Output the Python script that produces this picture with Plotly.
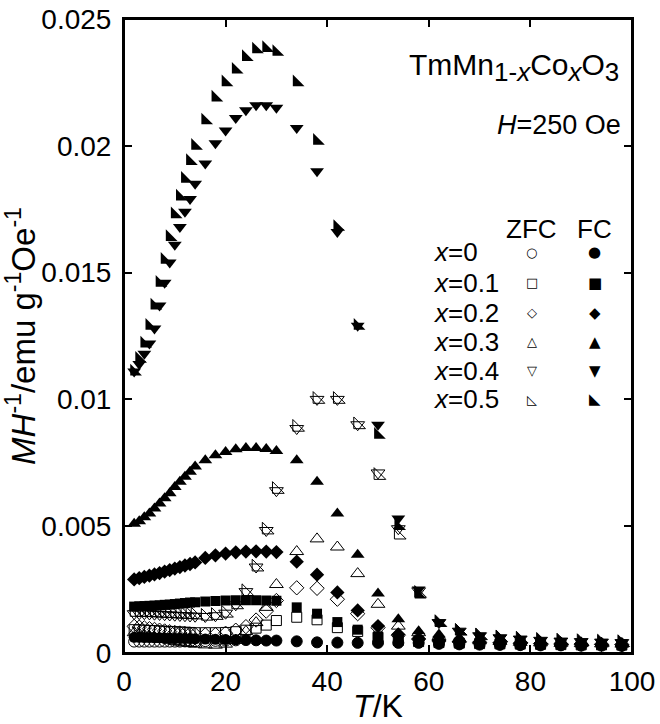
import plotly.graph_objects as go

# Temperatures (K)
T = [2, 3, 4, 5, 6, 7, 8, 9, 10, 11, 12, 13, 14, 16, 18, 20, 22, 24, 26, 28, 30,
     34, 38, 42, 46, 50, 54, 58, 62, 66, 70, 74, 78, 82, 86, 90, 94, 98]

# MH^-1 values in units of 1e-3 emu g^-1 Oe^-1
fc_00 = [0.62, 0.62, 0.61, 0.61, 0.60, 0.60, 0.59, 0.59, 0.58, 0.58, 0.57, 0.57, 0.56, 0.55, 0.54, 0.53, 0.52, 0.51, 0.50, 0.49, 0.49,
         0.46, 0.42, 0.41, 0.40, 0.40, 0.40, 0.40, 0.36, 0.34, 0.33, 0.32, 0.31, 0.30, 0.30, 0.29, 0.29, 0.28]
zfc_00 = [0.45, 0.45, 0.45, 0.45, 0.45, 0.45, 0.45, 0.45, 0.45, 0.45, 0.46, 0.46, 0.46, 0.47, 0.48, 0.49, 0.50, 0.51, 0.50, 0.49, 0.49,
          0.46, 0.42, 0.41, 0.40, 0.40, 0.40, 0.40, 0.36, 0.34, 0.33, 0.32, 0.31, 0.30, 0.30, 0.29, 0.29, 0.28]
fc_01 = [1.83, 1.84, 1.85, 1.86, 1.87, 1.88, 1.90, 1.91, 1.93, 1.95, 1.97, 1.99, 2.00, 2.03, 2.05, 2.07, 2.08, 2.08, 2.08, 2.07, 2.06,
         1.80, 1.55, 1.22, 0.92, 0.65, 0.50, 0.45, 0.42, 0.40, 0.38, 0.37, 0.36, 0.35, 0.34, 0.33, 0.33, 0.32]
zfc_01 = [0.92, 0.91, 0.90, 0.89, 0.88, 0.87, 0.86, 0.85, 0.84, 0.83, 0.82, 0.81, 0.80, 0.80, 0.80, 0.81, 0.84, 0.90, 0.98, 1.10, 1.28,
          1.41, 1.31, 1.00, 0.85, 0.62, 0.50, 0.45, 0.41, 0.39, 0.37, 0.36, 0.35, 0.34, 0.33, 0.32, 0.32, 0.31]
fc_02 = [2.90, 2.95, 3.00, 3.05, 3.10, 3.15, 3.21, 3.27, 3.33, 3.39, 3.45, 3.51, 3.57, 3.75, 3.85, 3.92, 3.97, 4.00, 4.01, 4.00, 3.98,
         3.60, 3.09, 2.39, 1.68, 1.06, 0.73, 0.55, 0.48, 0.45, 0.42, 0.40, 0.38, 0.37, 0.36, 0.35, 0.34, 0.33]
zfc_02 = [1.05, 1.02, 0.99, 0.96, 0.93, 0.90, 0.87, 0.84, 0.81, 0.79, 0.77, 0.75, 0.73, 0.72, 0.73, 0.78, 0.90, 1.04, 1.30, 1.65, 2.07,
          2.57, 2.55, 2.12, 1.55, 1.00, 0.70, 0.55, 0.47, 0.44, 0.42, 0.40, 0.38, 0.37, 0.36, 0.35, 0.34, 0.33]
fc_03 = [5.10, 5.20, 5.35, 5.50, 5.70, 5.90, 6.10, 6.30, 6.55, 6.75, 6.95, 7.15, 7.35, 7.60, 7.80, 7.93, 8.03, 8.08, 8.08, 8.04, 7.97,
         7.60, 6.75, 5.50, 3.87, 2.35, 1.33, 0.86, 0.73, 0.60, 0.52, 0.48, 0.45, 0.42, 0.40, 0.38, 0.37, 0.36]
zfc_03 = [0.80, 0.75, 0.70, 0.66, 0.62, 0.58, 0.54, 0.50, 0.46, 0.43, 0.40, 0.37, 0.35, 0.32, 0.31, 0.35, 0.50, 0.85, 1.20, 1.80, 2.70,
          4.00, 4.50, 4.18, 3.13, 1.92, 1.06, 0.80, 0.65, 0.55, 0.48, 0.45, 0.42, 0.40, 0.38, 0.37, 0.36, 0.35]
fc_04 = [11.1, 11.4, 11.8, 12.2, 12.8, 13.7, 14.6, 15.4, 16.1, 16.8, 17.4, 17.9, 18.5, 19.3, 20.1, 20.6, 21.1, 21.4, 21.6, 21.6, 21.5,
         20.7, 19.0, 16.6, 12.9, 9.0, 5.3, 2.5, 1.2, 0.86, 0.68, 0.60, 0.55, 0.50, 0.47, 0.45, 0.43, 0.41]
zfc_04 = [1.55, 1.55, 1.55, 1.54, 1.53, 1.52, 1.51, 1.50, 1.49, 1.48, 1.47, 1.46, 1.45, 1.44, 1.47, 1.57, 1.90, 2.42, 3.39, 4.83, 6.40,
          8.85, 10.0, 10.0, 9.0, 7.1, 4.9, 2.45, 1.2, 0.86, 0.68, 0.60, 0.55, 0.50, 0.47, 0.45, 0.43, 0.41]
fc_05 = [11.1, 11.6, 12.2, 12.9, 13.7, 14.6, 15.5, 16.4, 17.3, 18.0, 18.7, 19.4, 20.0, 21.0, 21.9, 22.5, 23.0, 23.5, 23.8, 23.85, 23.7,
         22.5, 20.2, 16.8, 12.9, 8.6, 5.0, 2.3, 1.2, 0.86, 0.68, 0.60, 0.55, 0.50, 0.47, 0.45, 0.43, 0.41]
zfc_05 = [1.60, 1.60, 1.60, 1.59, 1.58, 1.57, 1.56, 1.55, 1.54, 1.53, 1.52, 1.51, 1.50, 1.45, 1.48, 1.57, 1.90, 2.42, 3.39, 4.85, 6.45,
          8.90, 10.0, 10.0, 9.0, 7.0, 4.65, 2.35, 1.2, 0.86, 0.68, 0.60, 0.55, 0.50, 0.47, 0.45, 0.43, 0.41]

x_labels = ["0", "0.1", "0.2", "0.3", "0.4", "0.5"]
symbols = ["circle", "square", "diamond", "triangle-up", "triangle-down", "triangle-sw"]
sizes = [11, 10, 11, 12, 12, 13]
zfc_glyphs = ["\u25CB", "\u25A1", "\u25C7", "\u25B3", "\u25BD", "\u25FA"]
fc_glyphs = ["\u25CF", "\u25A0", "\u25C6", "\u25B2", "\u25BC", "\u25E3"]

zfc_series = [zfc_00, zfc_01, zfc_02, zfc_03, zfc_04, zfc_05]
fc_series = [fc_00, fc_01, fc_02, fc_03, fc_04, fc_05]

y_tickvals = [0, 0.005, 0.01, 0.015, 0.02, 0.025]
y_ticktext = ["0", "0.005", "0.01", "0.015", "0.02", "0.025"]
x_tickvals = [0, 20, 40, 60, 80, 100]

FONT = "Liberation Sans, Arial, Helvetica, sans-serif"

fig = go.Figure()
for i in range(6):
    fig.add_trace(go.Scatter(
        x=T, y=[v * 1e-3 for v in fc_series[i]], mode="markers",
        marker=dict(symbol=symbols[i], size=sizes[i], color="black", line=dict(width=0)),
        name="FC x=" + x_labels[i], showlegend=False))
for i in range(6):
    fig.add_trace(go.Scatter(
        x=T, y=[v * 1e-3 for v in zfc_series[i]], mode="markers",
        marker=dict(symbol=symbols[i] + "-open", size=sizes[i], color="black", line=dict(width=1, color="black")),
        name="ZFC x=" + x_labels[i], showlegend=False))

def sub(s):
    return "<sub><span style='font-size:26px'>" + s + "</span></sub>"

annotations = []
annotations.append(dict(text="TmMn" + sub("1-<i>x</i>") + "Co" + sub("<i>x</i>") + "O" + sub("3"),
                        xref="paper", yref="paper", x=0.978, y=0.924, xanchor="right", yanchor="middle",
                        showarrow=False, font=dict(family=FONT, size=30, color="black")))
annotations.append(dict(text="<i>H</i>=250 Oe", xref="paper", yref="paper", x=0.982, y=0.833,
                        xanchor="right", yanchor="middle", showarrow=False,
                        font=dict(family=FONT, size=27, color="black")))
col_zfc, col_fc, col_lab = 0.803, 0.927, 0.604
annotations.append(dict(text="ZFC", xref="paper", yref="paper", x=col_zfc, y=0.668, xanchor="center",
                        yanchor="middle", showarrow=False, font=dict(family=FONT, size=26, color="black")))
annotations.append(dict(text="FC", xref="paper", yref="paper", x=col_fc, y=0.668, xanchor="center",
                        yanchor="middle", showarrow=False, font=dict(family=FONT, size=26, color="black")))
row_y = [0.632, 0.584, 0.537, 0.491, 0.445, 0.400]
for i in range(6):
    annotations.append(dict(text="<i>x</i>=" + x_labels[i], xref="paper", yref="paper", x=col_lab, y=row_y[i],
                            xanchor="left", yanchor="middle", showarrow=False,
                            font=dict(family=FONT, size=26, color="black")))
    annotations.append(dict(text=zfc_glyphs[i], xref="paper", yref="paper", x=col_zfc, y=row_y[i],
                            xanchor="center", yanchor="middle", showarrow=False,
                            font=dict(family="DejaVu Sans", size=13, color="black")))
    annotations.append(dict(text=fc_glyphs[i], xref="paper", yref="paper", x=col_fc, y=row_y[i],
                            xanchor="center", yanchor="middle", showarrow=False,
                            font=dict(family="DejaVu Sans", size=15, color="black")))

axis_common = dict(showline=True, linewidth=2, linecolor="black", mirror="ticks", ticks="inside",
                   ticklen=8, tickwidth=2, tickcolor="black", showgrid=False, zeroline=False,
                   automargin=False, ticklabeloverflow="allow",
                   tickfont=dict(family=FONT, size=28, color="black"))

fig.update_layout(
    width=660, height=724,
    margin=dict(l=124, r=28, t=19, b=71),
    paper_bgcolor="white", plot_bgcolor="white",
    showlegend=False,
    xaxis=dict(range=[0, 100], tickvals=x_tickvals, ticklabelstandoff=2,
               title=dict(text="<i>T</i>/K", font=dict(family=FONT, size=32, color="black"), standoff=2),
               **axis_common),
    yaxis=dict(range=[0, 0.025], tickvals=y_tickvals, ticktext=y_ticktext, ticklabelstandoff=5,
               title=dict(text="<i>MH</i><sup>-1</sup>/emu g<sup>-1</sup>Oe<sup>-1</sup>",
                          font=dict(family=FONT, size=33, color="black"), standoff=2),
               **axis_common),
    annotations=annotations,
    shapes=[dict(type="rect", xref="paper", yref="paper", x0=0, x1=1, y0=0, y1=1,
                 line=dict(color="black", width=2), layer="below")],
)

# Remove the default 8 px page margin so the 660x724 figure fills the window exactly.
fig.write_html("out.html", config={"displayModeBar": False},
               post_script="document.body.style.margin='0px';")
